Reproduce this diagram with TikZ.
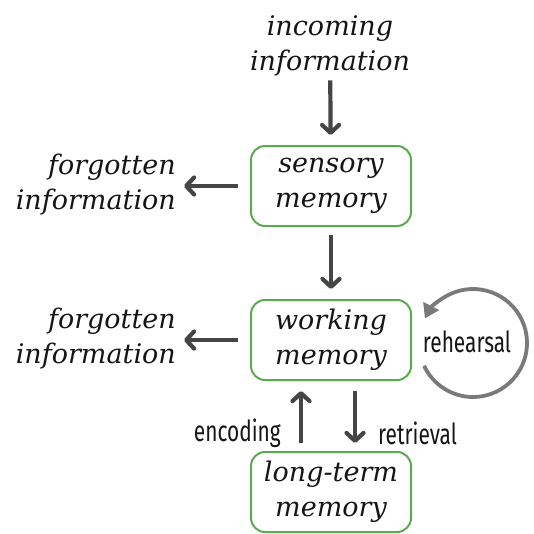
\documentclass[tikz,border=0pt]{standalone}
\usepackage{fontspec}
\setmainfont{DejaVu Serif}
\newfontfamily\labelfont[FakeStretch=0.72]{Fira Sans}
\usetikzlibrary{arrows.meta}
\definecolor{boxgreen}{HTML}{5BAA4F}
\definecolor{arrowgray}{HTML}{454545}
\definecolor{loopgray}{HTML}{7A7A7A}
\definecolor{inkgray}{HTML}{151515}
\tikzset{
  memory/.style={draw=boxgreen, line width=2pt, rounded corners=14pt,
    minimum width=160pt, minimum height=80pt, align=center,
    font=\fontsize{27}{35}\selectfont\itshape, text=inkgray, inner sep=0pt},
  plain/.style={align=center, font=\fontsize{27}{35}\selectfont\itshape,
    text=inkgray, inner sep=0pt},
  side/.style={font=\labelfont\fontsize{29}{32}\selectfont, text=inkgray, inner sep=0pt},
  flow/.style={draw=arrowgray, line width=4.2pt,
    -{Straight Barb[length=8pt,width=17pt,line cap=round,line join=round]}},
}
\begin{document}
\begin{tikzpicture}[x=1pt,y=-1pt]
  \useasboundingbox (0,0) rectangle (534,533);
  % stores
  \node[memory] (sensory)  at (331,186) {sensory\\memory};
  \node[memory] (working)  at (331,340) {working\\memory};
  \node[memory] (longterm) at (331,492) {long-term\\memory};
  % free texts
  \node[plain] (incoming) at (330,46) {incoming\\information};
  \node[plain, anchor=east, align=right] (lost1) at (176,185) {forgotten\\information};
  \node[plain, anchor=east, align=right] (lost2) at (176,339) {forgotten\\information};
  % flows between stages
  \draw[flow, shorten <=4pt, shorten >=10pt] (incoming) -- (sensory);
  \draw[flow, shorten <=8pt, shorten >=10pt] (sensory) -- (working);
  \draw[flow, shorten <=12pt, shorten >=8pt] (sensory.west) -- (lost1.east |- sensory.west);
  \draw[flow, shorten <=12pt, shorten >=8pt] (working.west) -- (lost2.east |- working.west);
  \draw[flow, shorten <=8pt, shorten >=10pt] ([xshift=-30pt]longterm.north) -- ([xshift=-30pt]working.south);
  \draw[flow, shorten <=10pt, shorten >=8pt] ([xshift=24pt]working.south) -- ([xshift=24pt]longterm.north);
  \node[side, anchor=east] (enc) at (281,433) {encoding};
  \node[side, anchor=west] (ret) at (378,433) {retrieval};
  % rehearsal loop
  \coordinate (loopc) at (473,343);
  \node[side] (reh) at (467,342) {rehearsal};
  \draw[draw=loopgray, line width=3.8pt, -{Triangle[length=14pt,width=17pt]}]
    ([shift={(205:54pt)}]loopc) arc[start angle=205, end angle=513, radius=54pt];
\end{tikzpicture}
\end{document}
